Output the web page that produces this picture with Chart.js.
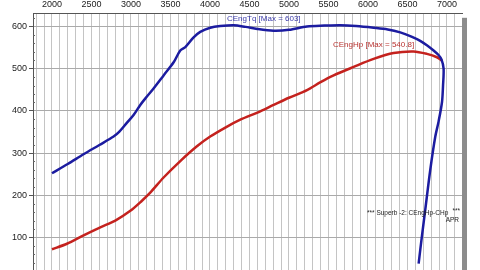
<!DOCTYPE html>
<html>
<head>
<meta charset="utf-8">
<script src="https://cdn.jsdelivr.net/npm/chart.js@4"></script>
<style>
  html, body { margin: 0; padding: 0; background: #fff; overflow: hidden; width: 480px; height: 270px; }
  #wrap { position: absolute; left: 0; top: -5px; width: 480px; height: 292px; }
</style>
</head>
<body>
<div id="wrap"><canvas id="dyno" width="480" height="292"></canvas></div>
<script>
// engine speed (rpm) and readings for each trace
const tqRpm = [2000, 2200, 2400, 2600, 2780, 2850, 2950, 3033, 3118, 3180, 3286, 3413, 3540, 3624, 3688, 3793, 3877, 4003, 4130, 4300, 4450, 4600, 4805, 5000, 5228, 5450, 5649, 5850, 6071, 6250, 6408, 6550, 6661, 6750, 6830, 6890, 6930, 6957, 6950, 6937, 6894, 6852, 6789, 6726, 6684, 6641];
const tqVal = [252, 274, 297, 319, 339, 350, 372, 390, 414, 429, 453, 484, 515, 543, 551, 574, 587, 597, 601, 603, 599, 594, 590, 592, 600, 602, 603, 601, 597, 593, 586, 576, 566, 555, 543, 533, 522, 500, 460, 421, 375, 339, 261, 167, 105, 38];

const hpRpm = [2000, 2190, 2400, 2612, 2802, 2992, 3139, 3244, 3413, 3624, 3835, 4003, 4200, 4384, 4600, 4805, 5000, 5228, 5400, 5565, 5818, 6071, 6324, 6577, 6746, 6873, 6937];
const hpVal = [72, 85, 105, 124, 140, 163, 187, 206, 242, 281, 316, 339, 361, 379, 396, 414, 431, 449, 468, 484, 504, 523, 537, 540.8, 535, 527, 519];

const xLabels = [2000, 2500, 3000, 3500, 4000, 4500, 5000, 5500, 6000, 6500, 7000];
const yLabels = [100, 200, 300, 400, 500, 600];

const toPoints = (xs, ys) => xs.map((x, i) => ({ x: x, y: ys[i] }));

const extras = {
  id: 'extras',
  beforeDraw(chart) {
    const ctx = chart.ctx, a = chart.chartArea;
    ctx.save();
    ctx.fillStyle = '#8c8c8c';
    ctx.fillRect(a.right, a.top + 4, 5, chart.height - a.top);
    ctx.restore();
  },
  afterDraw(chart) {
    const ctx = chart.ctx, a = chart.chartArea, y = chart.scales.y;
    ctx.save();
    // small ticks inside the left axis
    ctx.strokeStyle = '#666';
    ctx.lineWidth = 1;
    for (let v = 20; v <= 620; v += 20) {
      if (v % 100 === 0) continue;
      const py = Math.round(y.getPixelForValue(v)) + 0.5;
      ctx.beginPath();
      ctx.moveTo(a.left, py);
      ctx.lineTo(a.left + 2, py);
      ctx.stroke();
    }
    ctx.textBaseline = 'middle';
    ctx.font = '8px "Liberation Sans", Arial, sans-serif';
    ctx.fillStyle = '#3a3aa8';
    ctx.fillText('CEngTq [Max = 603]', 227, 24);
    ctx.fillStyle = '#b83330';
    ctx.fillText('CEngHp [Max = 540.8]', 333, 50);
    ctx.font = '6.5px "Liberation Sans", Arial, sans-serif';
    ctx.fillStyle = '#222';
    ctx.fillText('*** Superb -2: CEngHp-CHp', 367, 218);
    ctx.textAlign = 'right';
    ctx.fillText('***', 460, 216);
    ctx.fillText('APR', 459, 225);
    ctx.restore();
  }
};

new Chart(document.getElementById('dyno'), {
  type: 'line',
  data: {
    datasets: [
      {
        label: 'CEngTq',
        data: toPoints(tqRpm, tqVal),
        borderColor: '#1c1ca0',
        borderWidth: 2.5,
        pointRadius: 0,
        tension: 0.3,
        fill: false
      },
      {
        label: 'CEngHp',
        data: toPoints(hpRpm, hpVal),
        borderColor: '#c4221e',
        borderWidth: 2.5,
        pointRadius: 0,
        tension: 0.3,
        fill: false
      }
    ]
  },
  options: {
    responsive: false,
    animation: false,
    devicePixelRatio: 1,
    layout: { padding: { top: 0, right: 18, bottom: 1, left: 0 } },
    plugins: { legend: { display: false }, tooltip: { enabled: false } },
    scales: {
      x: {
        type: 'linear',
        position: 'top',
        min: 1760,
        max: 7190,
        afterBuildTicks(scale) {
          const t = [];
          for (let v = 1800; v <= 7100; v += 100) t.push({ value: v });
          scale.ticks = t;
        },
        ticks: {
          autoSkip: false,
          maxRotation: 0,
          padding: 4,
          color: '#222',
          font: { size: 9, family: '"Liberation Sans", Arial, sans-serif' },
          callback: v => xLabels.includes(v) ? String(v) : ''
        },
        grid: { color: '#c4c4c4', drawTicks: false },
        border: { color: '#555', width: 1 }
      },
      y: {
        min: 0,
        max: 630,
        afterBuildTicks(scale) {
          scale.ticks = [0].concat(yLabels).map(v => ({ value: v }));
        },
        afterFit(scale) { scale.width = 33; },
        ticks: {
          padding: 2,
          color: '#222',
          font: { size: 9, family: '"Liberation Sans", Arial, sans-serif' },
          callback: v => yLabels.includes(v) ? String(v) : ''
        },
        grid: { color: '#aaaaaa', tickLength: 4, tickColor: '#555' },
        border: { color: '#555', width: 1 }
      }
    }
  },
  plugins: [extras]
});
</script>
</body>
</html>
